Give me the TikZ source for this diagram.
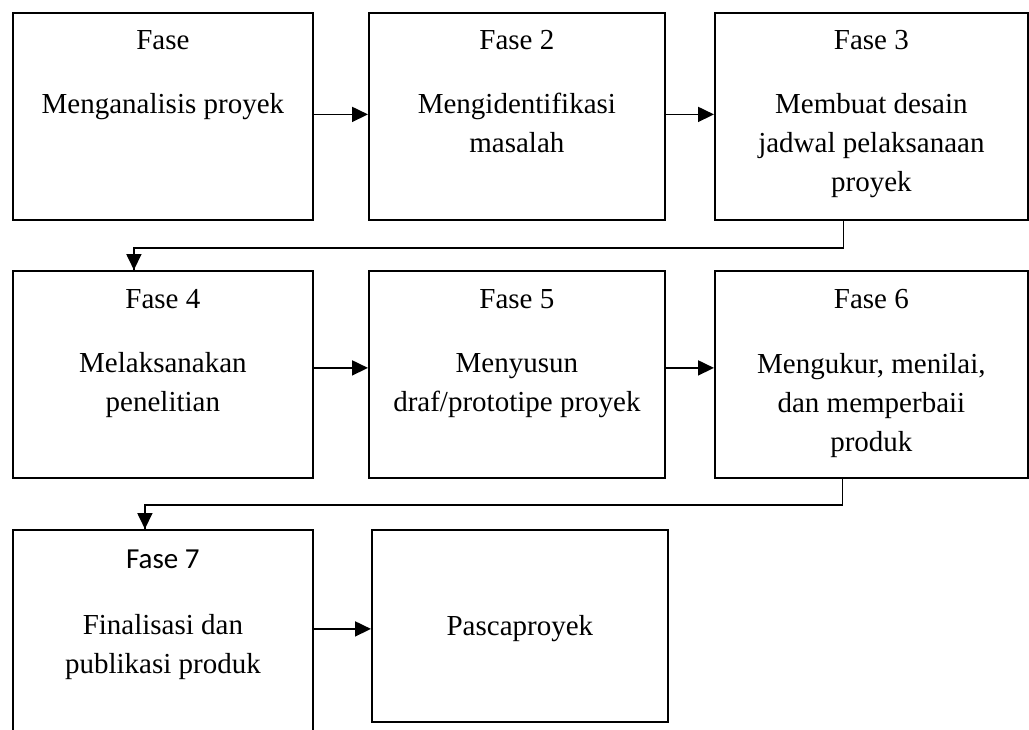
\documentclass[tikz,border=0pt]{standalone}
\usepackage{fontspec}
\setmainfont{Liberation Serif}
\newfontfamily\calibri{Carlito}
\usetikzlibrary{arrows.meta,positioning}

\tikzset{
  fasebox/.style={draw, line width=1.8pt, inner sep=0pt, anchor=north west,
    minimum height=207pt},
  judul/.style={anchor=base, inner sep=0pt, font=\fontsize{29}{39}\selectfont},
  isi/.style={anchor=base, inner sep=0pt, align=center,
    font=\fontsize{29}{39}\selectfont},
  panah/.style={line width=1.8pt, -{Triangle[length=16pt,width=15pt]}},
  garis/.style={line width=1.8pt}
}

\begin{document}
\begin{tikzpicture}[x=1pt,y=-1pt]
  \useasboundingbox (0,0) rectangle (1029,729);
  \clip (0,0) rectangle (1029,729);

  \node[fasebox, minimum width=300pt] (fase1) at (12,12) {};
  \node[fasebox, minimum width=296pt] (fase2) at (368,12) {};
  \node[fasebox, minimum width=313pt] (fase3) at (714,12) {};
  \node[fasebox, minimum width=300pt] (fase4) at (12,270) {};
  \node[fasebox, minimum width=296pt] (fase5) at (368,270) {};
  \node[fasebox, minimum width=313pt] (fase6) at (714,270) {};
  \node[fasebox, minimum width=300pt] (fase7) at (12,529) {};
  \node[fasebox, minimum width=296pt, minimum height=192pt] (pasca) at (371,529) {};

  \node[judul] (j1) at ([yshift=-37pt]fase1.north) {Fase};
  \node[judul] (j2) at ([yshift=-37pt]fase2.north) {Fase 2};
  \node[judul] (j3) at ([yshift=-37pt]fase3.north) {Fase 3};
  \node[judul] (j4) at ([yshift=-38pt]fase4.north) {Fase 4};
  \node[judul] (j5) at ([yshift=-38pt]fase5.north) {Fase 5};
  \node[judul] (j6) at ([yshift=-38pt]fase6.north) {Fase 6};
  \node[judul, font=\calibri\fontsize{29}{39}\selectfont] (j7) at ([yshift=-39pt]fase7.north) {Fase 7};

  % anchor=base is the baseline of the last line
  \node[isi] (i1) at ([yshift=-101pt]fase1.north) {Menganalisis proyek};
  \node[isi] (i2) at ([yshift=-140pt]fase2.north) {Mengidentifikasi\\masalah};
  \node[isi] (i3) at ([yshift=-179pt]fase3.north) {Membuat desain\\jadwal pelaksanaan\\proyek};
  \node[isi] (i4) at ([yshift=-141pt]fase4.north) {Melaksanakan\\penelitian};
  \node[isi] (i5) at ([yshift=-141pt]fase5.north) {Menyusun\\draf/prototipe proyek};
  \node[isi] (i6) at ([yshift=-181pt]fase6.north) {Mengukur, menilai,\\dan memperbaii\\produk};
  \node[isi] (i7) at ([yshift=-144pt]fase7.north) {Finalisasi dan\\publikasi produk};
  \node[isi] (i8) at ([yshift=-106pt]pasca.north) {Pascaproyek};

  \draw[panah] ([yshift=2pt]fase1.east) -- ([yshift=2pt]fase2.west);
  \draw[panah] ([yshift=2pt]fase2.east) -- ([yshift=2pt]fase3.west);
  \draw[panah] ([yshift=6.5pt]fase4.east) -- ([yshift=6.5pt]fase5.west);
  \draw[panah] ([yshift=6.5pt]fase5.east) -- ([yshift=6.5pt]fase6.west);
  \draw[panah] ([yshift=4.5pt]fase7.east) -- ([yshift=4.5pt]fase7.east -| pasca.west);

  \draw[garis] ([xshift=-28pt]fase3.south) -- ++(0,27) -| ([xshift=-29pt]fase4.north);
  \draw[panah] ([xshift=-29pt]fase4.north) ++(0,-2) -- ([xshift=-29pt]fase4.north);
  \draw[garis] ([xshift=-29pt]fase6.south) -- ++(0,26) -| ([xshift=-18pt]fase7.north);
  \draw[panah] ([xshift=-18pt]fase7.north) ++(0,-2) -- ([xshift=-18pt]fase7.north);
\end{tikzpicture}
\end{document}
